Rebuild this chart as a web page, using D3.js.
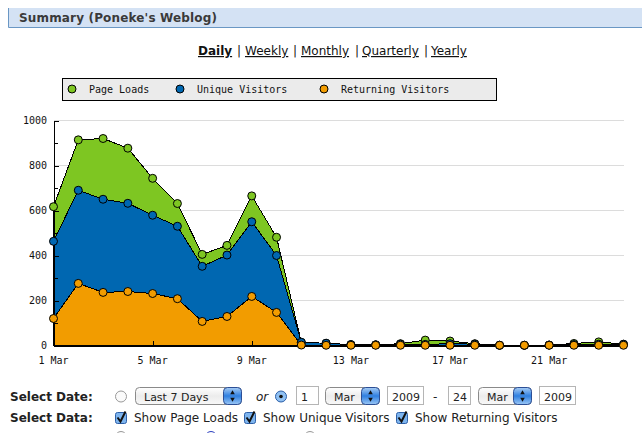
<!DOCTYPE html>
<html>
<head>
<meta charset="utf-8">
<title>Summary</title>
<style>
    html, body { margin: 0; padding: 0; background: #fff; overflow: hidden; }
    svg { display: block; }
    .mono { font-family: "DejaVu Sans Mono", monospace; font-size: 10px; fill: #111; }
    .sans { font-family: "DejaVu Sans", sans-serif; }
    .ui { font-family: "DejaVu Sans", sans-serif; font-size: 12px; fill: #222; }
    .axis path { stroke: #000; }
    .axis line { stroke: #000; }
    .crisp { shape-rendering: crispEdges; }
</style>
<script src="https://cdnjs.cloudflare.com/ajax/libs/d3/7.8.5/d3.min.js"></script>
</head>
<body>
<script>
var w = 642, h = 433;

var days = d3.range(1, 25);
var pageLoads = [617, 914, 920, 877, 743, 631, 405, 445, 665, 481, 14, 10, 4, 3, 8, 24, 20, 8, 1, 1, 2, 9, 16, 6];
var uniqueVisitors = [463, 690, 650, 632, 579, 530, 352, 402, 550, 400, 14, 10, 4, 3, 6, 5, 8, 6, 1, 1, 2, 4, 6, 5];
var returningVisitors = [120, 276, 236, 240, 231, 208, 107, 129, 218, 147, 2, 1, 1, 1, 1, 1, 1, 1, 1, 1, 1, 1, 1, 1];
var seriesNames = ['Page Loads', 'Unique Visitors', 'Returning Visitors'];
var seriesColors = ['#7ec622', '#0067b1', '#f29c00'];
var yMajor = [0, 200, 400, 600, 800, 1000];
var yMinor = [100, 300, 500, 700, 900];
var xTickDays = [1, 5, 9, 13, 17, 21];
var navLinks = ['Daily', 'Weekly', 'Monthly', 'Quarterly', 'Yearly'];

var svg = d3.select('body').append('svg').attr('width', w).attr('height', h);

var x = d3.scaleLinear().domain([1, 24]).range([53.5, 623.5]);
var y = d3.scaleLinear().domain([0, 1000]).range([345.5, 120.5]);

// header bar
svg.append('rect').attr('x', 8).attr('y', 8).attr('width', 640).attr('height', 19).attr('fill', '#d4e2f4');
svg.append('path').attr('d', 'M8.5,8V27.5H642').attr('fill', 'none').attr('stroke', '#6a97c4');
svg.append('text').attr('x', 19).attr('y', 22).attr('class', 'sans')
    .style('font-size', '12px').style('font-weight', 'bold').style('fill', '#3a3a3a')
    .attr('textLength', 198)
    .text("Summary (Poneke's Weblog)");

// period links
var navX = [198, 245, 301, 362, 431];
var navSepX = [237, 293, 355, 424];
navLinks.forEach(function (name, i) {
    svg.append('text').attr('x', navX[i]).attr('y', 55).attr('class', 'sans')
        .style('font-size', '12px').style('font-weight', i === 0 ? 'bold' : 'normal')
        .style('fill', '#111').style('text-decoration', 'underline').text(name);
    if (i < navSepX.length) {
        svg.append('text').attr('x', navSepX[i]).attr('y', 55).attr('class', 'sans')
            .style('font-size', '12px').style('fill', '#111').text('|');
    }
});

// legend
svg.append('rect').attr('x', 62.5).attr('y', 78.5).attr('width', 434).attr('height', 22)
    .attr('fill', '#ebebeb').attr('stroke', '#000').attr('class', 'crisp');
var legendDot = [72, 180, 324];
var legendText = [89, 197, 341];
seriesNames.forEach(function (name, i) {
    svg.append('circle').attr('cx', legendDot[i]).attr('cy', 89).attr('r', 4)
        .attr('fill', seriesColors[i]).attr('stroke', '#000');
    svg.append('text').attr('x', legendText[i]).attr('y', 93).attr('class', 'mono').text(name);
});

// grid
svg.append('g').selectAll('line').data(yMajor.slice(1)).enter().append('line')
    .attr('x1', x(1)).attr('x2', x(24))
    .attr('y1', function (d) { return y(d); })
    .attr('y2', function (d) { return y(d); })
    .attr('stroke', '#dcdcdc').attr('class', 'crisp');

// areas, back to front
var area = d3.area()
    .x(function (d, i) { return x(days[i]); })
    .y0(y(0))
    .y1(function (d) { return y(d); });

var allSeries = [pageLoads, uniqueVisitors, returningVisitors];
allSeries.forEach(function (values, s) {
    svg.append('path').attr('d', area(values)).attr('class', 'crisp')
        .attr('fill', seriesColors[s]).attr('stroke', '#000').attr('stroke-width', 1);
});

// axes
var yAxis = d3.axisRight(y).tickValues(yMajor).tickSize(5).tickFormat('');
var yAxisG = svg.append('g').attr('class', 'axis crisp').attr('transform', 'translate(' + x(1) + ',0)').call(yAxis);
yAxisG.append('g').selectAll('line').data(yMinor).enter().append('line')
    .attr('x2', 4)
    .attr('y1', function (d) { return y(d); })
    .attr('y2', function (d) { return y(d); });

svg.append('g').selectAll('text').data(yMajor).enter().append('text')
    .attr('class', 'mono')
    .attr('x', 47)
    .attr('y', function (d) { return y(d) + 3.5; })
    .attr('text-anchor', 'end')
    .text(function (d) { return d; });

var xAxis = d3.axisTop(x).tickValues(xTickDays).tickSize(5).tickFormat('');
svg.append('g').attr('class', 'axis crisp').attr('transform', 'translate(0,' + y(0) + ')').call(xAxis);

svg.append('g').selectAll('text.xl').data(xTickDays).enter().append('text')
    .attr('class', 'mono')
    .attr('x', function (d) { return x(d); })
    .attr('y', 364)
    .attr('text-anchor', 'middle')
    .text(function (d) { return d + ' Mar'; });

// markers on top
allSeries.forEach(function (values, s) {
    svg.append('g').selectAll('circle').data(values).enter().append('circle')
        .attr('cx', function (d, i) { return x(days[i]); })
        .attr('cy', function (d) { return y(d); })
        .attr('r', 4)
        .attr('fill', seriesColors[s]).attr('stroke', '#000').attr('stroke-width', 1);
});

// form controls
var defs = svg.append('defs');
var grad = defs.append('linearGradient').attr('id', 'sel').attr('x1', 0).attr('y1', 0).attr('x2', 0).attr('y2', 1);
grad.append('stop').attr('offset', '0').attr('stop-color', '#fff');
grad.append('stop').attr('offset', '0.5').attr('stop-color', '#ececec');
grad.append('stop').attr('offset', '1').attr('stop-color', '#f8f8f8');
var gradBlue = defs.append('linearGradient').attr('id', 'selb').attr('x1', 0).attr('y1', 0).attr('x2', 0).attr('y2', 1);
gradBlue.append('stop').attr('offset', '0').attr('stop-color', '#a9cdf4');
gradBlue.append('stop').attr('offset', '0.5').attr('stop-color', '#2f7fe0');
gradBlue.append('stop').attr('offset', '1').attr('stop-color', '#9cc8f5');

function label(px, py, txt, bold, size) {
    svg.append('text').attr('x', px).attr('y', py).attr('class', 'ui')
        .style('font-size', (size || 12) + 'px')
        .style('font-weight', bold ? 'bold' : 'normal').text(txt);
}
function select(px, width, txt) {
    svg.append('rect').attr('x', px + 0.5).attr('y', 387.5).attr('width', width).attr('height', 17).attr('rx', 4)
        .attr('fill', 'url(#sel)').attr('stroke', '#8a8a8a');
    svg.append('rect').attr('x', px + width - 17.5).attr('y', 387.5).attr('width', 18).attr('height', 17).attr('rx', 4)
        .attr('fill', 'url(#selb)').attr('stroke', '#2c4f96');
    svg.append('path').attr('d', d3.symbol().type(d3.symbolTriangle).size(9)())
        .attr('transform', 'translate(' + (px + width - 8.5) + ',393)').attr('fill', '#111');
    svg.append('path').attr('d', d3.symbol().type(d3.symbolTriangle).size(9)())
        .attr('transform', 'translate(' + (px + width - 8.5) + ',399) rotate(180)').attr('fill', '#111');
    label(px + 9, 400.5, txt, false, 11);
}
function input(px, width, txt) {
    svg.append('rect').attr('x', px + 0.5).attr('y', 386.5).attr('width', width).attr('height', 18)
        .attr('fill', '#fff').attr('stroke', '#b5b5b5');
    label(px + 5, 400.5, txt, false, 11);
}
function radio(cx, cy, on) {
    svg.append('circle').attr('cx', cx).attr('cy', cy).attr('r', 5.5)
        .attr('fill', on ? '#8fc0f2' : '#fafafa').attr('stroke', on ? '#2c5fa8' : '#999');
    if (on) svg.append('circle').attr('cx', cx).attr('cy', cy).attr('r', 1.8).attr('fill', '#111');
}
function check(px, py) {
    svg.append('rect').attr('x', px + 0.5).attr('y', py + 0.5).attr('width', 11).attr('height', 11).attr('rx', 2)
        .attr('fill', '#7db4ee').attr('stroke', '#2c5fa8');
    svg.append('path').attr('d', 'M' + (px + 2.5) + ',' + (py + 5.5) + 'l3,4l5,-10')
        .attr('fill', 'none').attr('stroke', '#111').attr('stroke-width', 2);
}

label(10, 400.5, 'Select Date:', true);
label(10, 422, 'Select Data:', true);
radio(121, 396.5, false);
select(135, 106, 'Last 7 Days');
svg.append('text').attr('x', 256).attr('y', 400.5).attr('class', 'ui').style('font-style', 'italic').text('or');
radio(281, 396.5, true);
input(296, 22, '1');
select(325, 54, 'Mar');
input(387, 36, '2009');
label(433, 400.5, '-');
input(448, 22, '24');
select(478, 53, 'Mar');
input(539, 36, '2009');

check(115, 412);
label(134, 422, 'Show Page Loads');
check(244, 412);
label(263, 422, 'Show Unique Visitors');
check(396, 412);
label(415, 422, 'Show Returning Visitors');

// next row of radios, cut off by the window
[[121, '#999'], [211, '#2c3fc0'], [310, '#999']].forEach(function (r) {
    svg.append('circle').attr('cx', r[0]).attr('cy', 437).attr('r', 5.5)
        .attr('fill', '#fafafa').attr('stroke', r[1]);
});
</script>
</body>
</html>
